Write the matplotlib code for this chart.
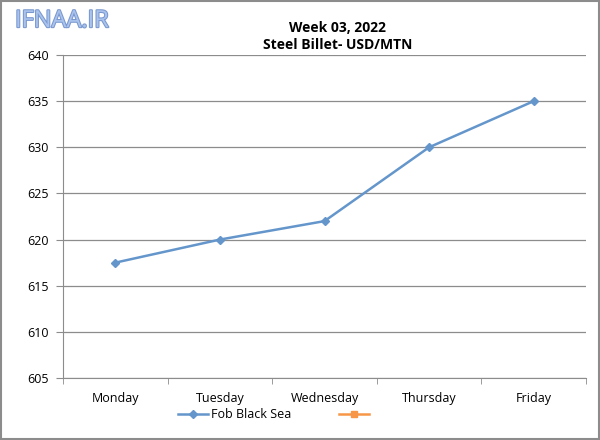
import matplotlib
matplotlib.use("Agg")
import matplotlib.pyplot as plt
import matplotlib.patheffects as pe
from matplotlib.lines import Line2D
from matplotlib.patches import Rectangle

days = ["Monday", "Tuesday", "Wednesday", "Thursday", "Friday"]
fob_black_sea = [617.5, 620, 622, 630, 635]
yticks = [605, 610, 615, 620, 625, 630, 635, 640]

plt.rcParams['font.family'] = ['Open Sans', 'DejaVu Sans']

fig = plt.figure(figsize=(6, 4.4), dpi=100)
ax = fig.add_axes([63/600, 1-378/440, (586-63)/600, (378-55)/440])

x = list(range(len(days)))
ax.plot(x, fob_black_sea, color='#6496CC', lw=1.8, marker='D', ms=4, label='Fob Black Sea', zorder=3)

ax.set_xlim(-0.5, len(days)-0.5)
ax.set_ylim(605, 640)
ax.set_yticks(yticks)
ax.set_yticklabels([str(v) for v in yticks], fontsize=9)
ax.yaxis.grid(True, color='#8C8C8C', lw=0.9)
ax.set_axisbelow(True)
ax.set_xticks(x)
ax.set_xticklabels(days, fontsize=9)
ax.tick_params(axis='x', length=0, pad=10)
ax.set_xticks([i + 0.5 for i in range(-1, len(days))], minor=True)
ax.tick_params(axis='x', which='minor', length=4, color='#8C8C8C', direction='out')
ax.tick_params(axis='y', length=5, color='#8C8C8C', pad=5)
for s in ['top', 'right']:
    ax.spines[s].set_visible(False)
for s in ['left', 'bottom']:
    ax.spines[s].set_color('#8C8C8C')

fig.text(0.562, 0.937, "Week 03, 2022", ha='center', va='center', fontsize=10, fontweight='bold')
fig.text(0.562, 0.897, "Steel Billet- USD/MTN", ha='center', va='center', fontsize=10, fontweight='bold')

fig.text(0.025, 0.952, "IFNAA.IR", ha='left', va='center', fontsize=17, color='#A9C3EC',
         path_effects=[pe.withStroke(linewidth=1.5, foreground='#7A98CF')])

handles = [Line2D([], [], color='#6496CC', lw=1.8, marker='D', ms=4),
           Line2D([], [], color='#F79646', lw=1.8, marker='s', ms=5)]
fig.legend(handles, ['Fob Black Sea', ''], loc='center', bbox_to_anchor=(0.458, 0.058),
           ncol=2, frameon=False, fontsize=9, handlelength=2.4, columnspacing=3.8, handletextpad=0.2)

fig.patches.append(Rectangle((0.002, 0.002), 0.996, 0.996, transform=fig.transFigure,
                             fill=False, edgecolor='#8C8C8C', lw=1.5))

fig.savefig("out.png", dpi=100)
